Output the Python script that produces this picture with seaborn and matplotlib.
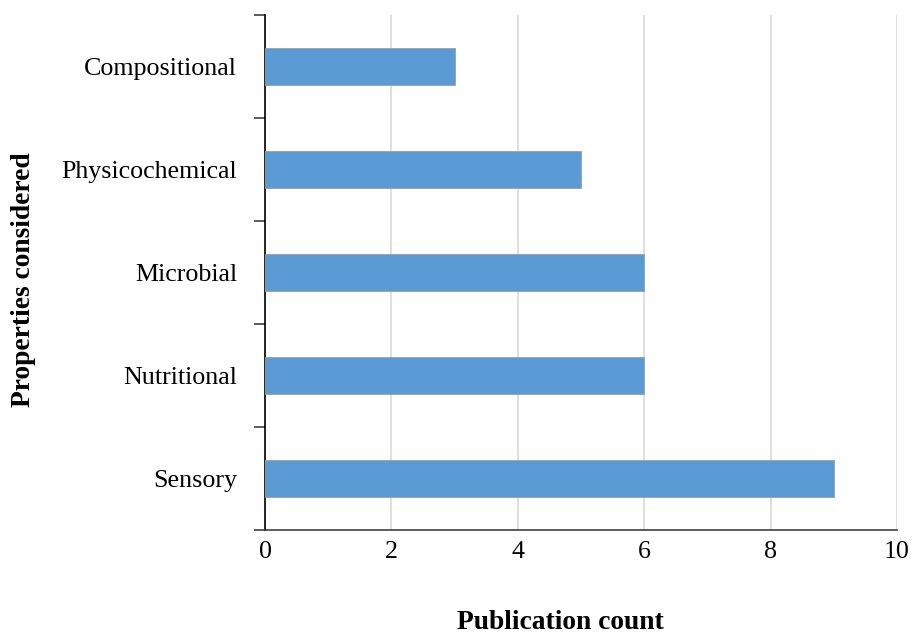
import numpy as np
import pandas as pd
import matplotlib
matplotlib.use("Agg")
import matplotlib.pyplot as plt
import seaborn as sns
from matplotlib.ticker import FixedLocator

categories = ["Compositional", "Physicochemical", "Microbial", "Nutritional", "Sensory"]
counts = [3, 5, 6, 6, 9]
x_ticks = [0, 2, 4, 6, 8, 10]

sns.set_style("white")
plt.rcParams["font.family"] = ["Liberation Serif", "DejaVu Serif"]
plt.rcParams["text.color"] = "black"
plt.rcParams["xtick.color"] = "black"
plt.rcParams["ytick.color"] = "black"

df = pd.DataFrame({"Property": categories, "Count": counts})

fig = plt.figure(figsize=(9.13, 6.36), dpi=100)
ax = fig.add_axes([0.2903, 0.1667, 0.6922, 0.8097])

sns.barplot(data=df, x="Count", y="Property", orient="h", width=0.35,
            color="#5B9BD5", saturation=1, edgecolor="#9E9E9E", linewidth=0.6,
            ax=ax, zorder=3)

ax.set_xlim(0, 10)
ax.set_ylim(len(categories) - 0.5, -0.5)
ax.set_xticks(x_ticks)
ax.set_xticklabels([str(t) for t in x_ticks], fontsize=18.7)
ax.tick_params(axis="x", length=0, pad=8, labelcolor="black")
ax.tick_params(axis="y", which="major", length=0, pad=20, labelsize=18.7, labelcolor="black")
ax.yaxis.set_minor_locator(FixedLocator(np.arange(-0.5, len(categories), 1.0)))
ax.tick_params(axis="y", which="minor", left=True, length=8, width=1.2,
               color="#404040", direction="out")

ax.grid(axis="x", color="#D9D9D9", linewidth=1.2, zorder=0)
ax.grid(axis="y", visible=False)
ax.set_axisbelow(True)

for side in ["top", "right"]:
    ax.spines[side].set_visible(False)
ax.spines["left"].set_color("black")
ax.spines["left"].set_linewidth(1.2)
ax.spines["bottom"].set_color("#404040")
ax.spines["bottom"].set_linewidth(1.2)

ax.set_xlabel("")
ax.set_ylabel("")
fig.text(560 / 913, 1 / 636, "Publication count", fontsize=19.8, fontweight="bold",
         ha="center", va="bottom")
fig.text(23 / 913, 1 - 280 / 636, "Properties considered", fontsize=19.8,
         fontweight="bold", rotation=90, ha="center", va="center")

fig.savefig("out.png", dpi=100)
